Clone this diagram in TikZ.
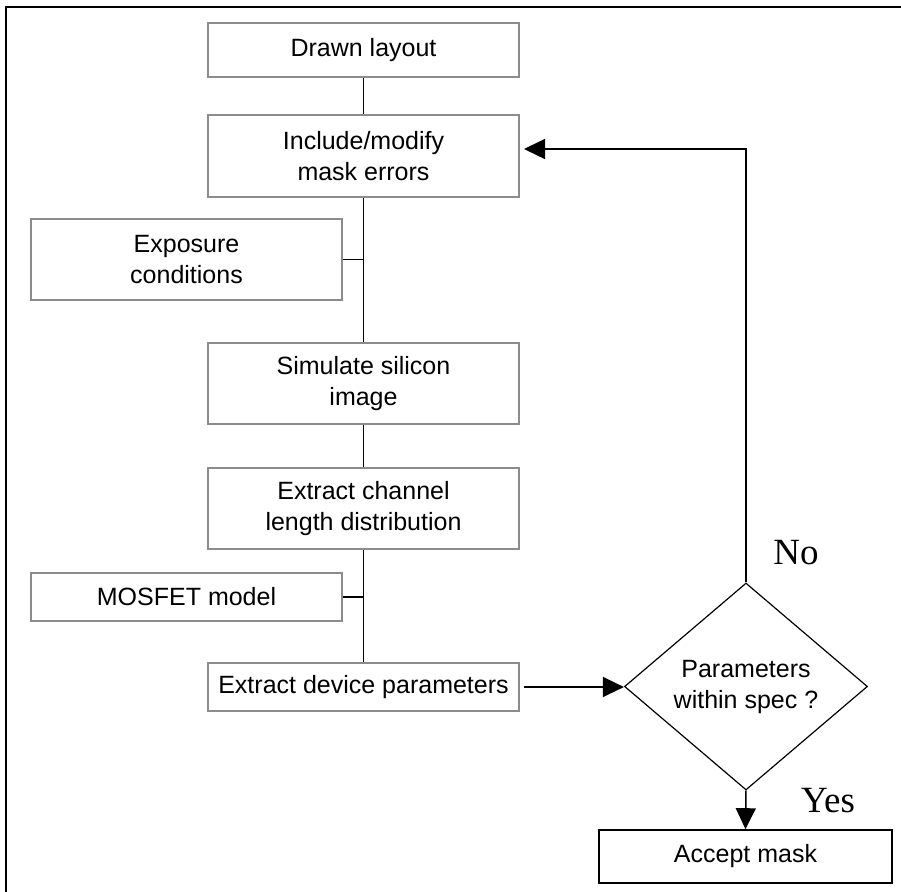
\documentclass[tikz,border=0pt]{standalone}
\usepackage{fontspec}
\setmainfont{Liberation Serif}
\setsansfont{Liberation Sans}
\usetikzlibrary{shapes.geometric,arrows.meta}
\definecolor{boxgray}{RGB}{140,140,140}
\begin{document}
\begin{tikzpicture}[x=0.5pt,y=-0.5pt,
  box/.style={draw=boxgray,line width=0.7pt,fill=white,align=center,inner sep=0pt,
    minimum width=155.5pt,font=\sffamily\fontsize{12.5}{15.5}\selectfont},
  finalbox/.style={draw=black,line width=0.8pt,fill=white,align=center,inner sep=0pt,
    minimum width=146.5pt,minimum height=26.5pt,font=\sffamily\fontsize{12.5}{15.5}\selectfont},
  decision/.style={diamond,draw=black,line width=0.6pt,align=center,inner sep=0pt,
    minimum width=121.5pt,minimum height=103.5pt,font=\sffamily\fontsize{12.5}{15.5}\selectfont},
  conn/.style={draw=black,line width=0.75pt},
  arr/.style={conn,-{Triangle[length=10.5pt,width=10pt]}},
  answer/.style={font=\rmfamily\fontsize{18.5}{22}\selectfont,inner sep=0pt}]
\useasboundingbox (0,0) rectangle (901,892);
\draw[line width=1pt] (6,892) -- (6,7) -- (901,7);

\node[box,minimum height=27pt] (drawn) at (363.5,50) {Drawn layout};
\node[box,minimum height=41pt] (incl) at (363.5,156) {Include/modify\\mask errors};
\node[box,minimum height=40.5pt] (expo) at (186.5,259.5) {Exposure\\conditions};
\node[box,minimum height=40.5pt] (sim) at (363.5,383.5) {Simulate silicon\\image};
\node[box,minimum height=40.5pt] (chan) at (363.5,508.5) {Extract channel\\length distribution};
\node[box,minimum height=24pt] (mos) at (186.5,597) {MOSFET model};
\node[box,minimum height=24pt] (dev) at (363.5,687) {Extract device parameters};
\node[decision] (dia) at (746,686.5) {Parameters\\within spec ?};
\node[finalbox] (acc) at (745.5,856.5) {Accept mask};
\node[answer] (no) at (796,553) {No};
\node[answer] (yes) at (828,801) {Yes};

\coordinate (corner) at (746,149);
\coordinate (loopend) at (524,149);

\draw[conn] (drawn.south) -- (incl.north);
\draw[conn] (incl.south) -- (sim.north);
\draw[conn] (expo.east) -- (expo.east -| incl.south);
\draw[conn] (sim.south) -- (chan.north);
\draw[conn] (chan.south) -- (dev.north);
\draw[conn] (mos.east) -- (mos.east -| chan.south);
\draw[arr,shorten <=2pt] (dev.east) -- (dev.east -| dia.west);
\draw[arr] (dia.north) -- (corner) -- (loopend);
\draw[arr] (dia.south) -- (acc.north);
\end{tikzpicture}
\end{document}
